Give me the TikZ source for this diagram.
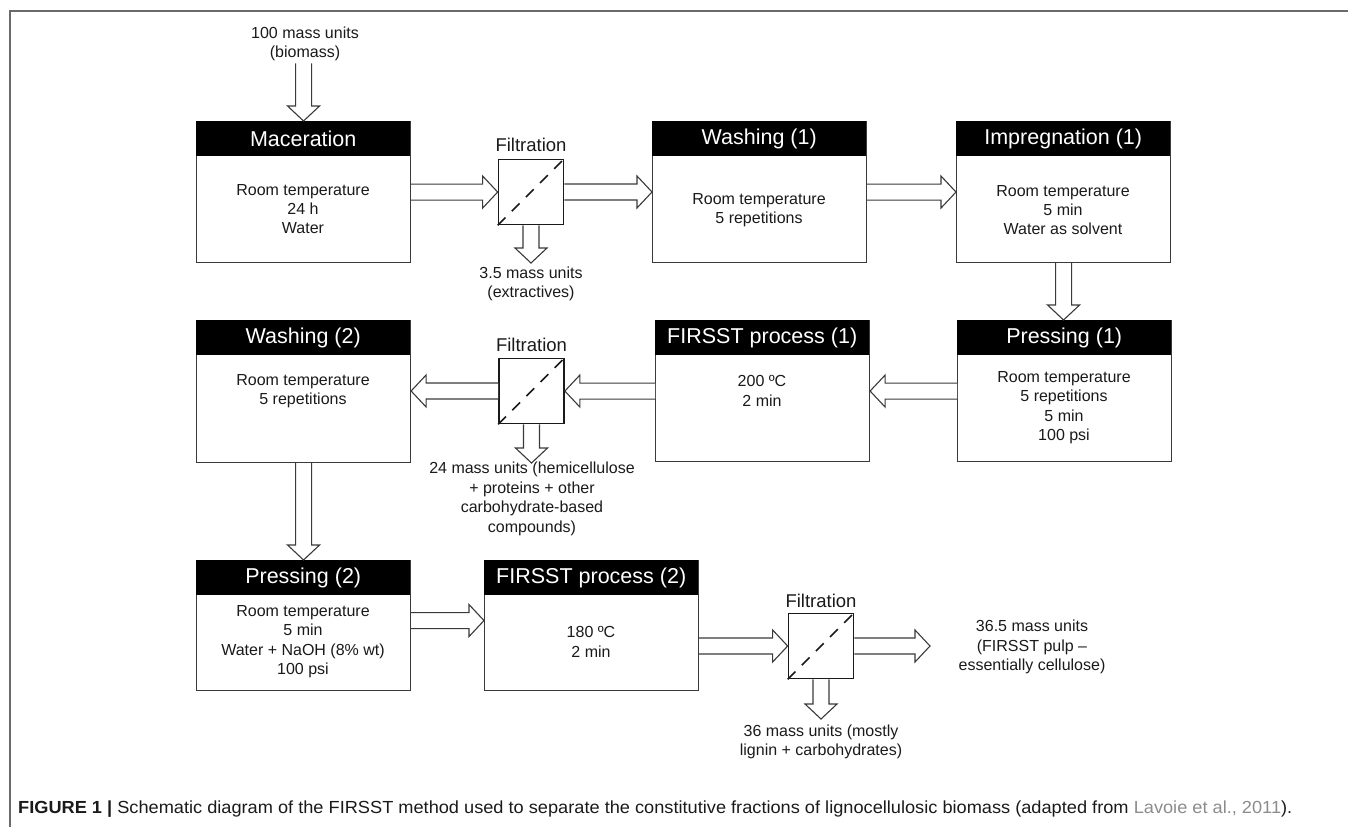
\documentclass[tikz,border=0pt]{standalone}
\usepackage{fontspec}
\setmainfont{Liberation Sans}
\usepackage{graphicx}
\usetikzlibrary{calc}
\definecolor{boxline}{HTML}{3A3A3A}
\definecolor{txt}{HTML}{1A1A1A}
\definecolor{capgrey}{HTML}{8C8C8C}
\definecolor{framegrey}{HTML}{6A6A6A}
\newcommand\arrR[2]{\draw[barrow] let \p1=#1, \p2=#2 in (\x1,\y1+8pt) -- (\x2-15pt,\y1+8pt) -- (\x2-15pt,\y1+16pt) -- (\x2,\y1) -- (\x2-15pt,\y1-16pt) -- (\x2-15pt,\y1-8pt) -- (\x1,\y1-8pt);}
\newcommand\arrL[2]{\draw[barrow] let \p1=#1, \p2=#2 in (\x1,\y1+8pt) -- (\x2+15pt,\y1+8pt) -- (\x2+15pt,\y1+16pt) -- (\x2,\y1) -- (\x2+15pt,\y1-16pt) -- (\x2+15pt,\y1-8pt) -- (\x1,\y1-8pt);}
\newcommand\arrD[2]{\draw[barrow] let \p1=#1, \p2=#2 in (\x1-8pt,\y1) -- (\x1-8pt,\y2+15pt) -- (\x1-16pt,\y2+15pt) -- (\x1,\y2) -- (\x1+16pt,\y2+15pt) -- (\x1+8pt,\y2+15pt) -- (\x1+8pt,\y1);}
\begin{document}
\begin{tikzpicture}[x=1pt,y=-1pt,
  bodybox/.style={draw=boxline, line width=1.1pt, fill=white, minimum width=214pt, anchor=north west, inner sep=0pt},
  hdr/.style={fill=black, text=white, minimum width=214pt, minimum height=35pt, anchor=north west, inner sep=0pt, font=\fontsize{21.5}{23}\selectfont},
  bodytxt/.style={text=txt, align=center, inner sep=1pt, font=\fontsize{16}{19.3}\selectfont},
  filt/.style={draw=txt, line width=1.7pt, fill=white, minimum size=65pt, inner sep=0pt},
  flabel/.style={text=txt, inner sep=1pt, font=\fontsize{18.5}{20}\selectfont},
  outtxt/.style={text=txt, align=center, inner sep=2pt, font=\fontsize{16}{19.5}\selectfont},
  barrow/.style={draw=boxline, fill=white, line width=1.1pt, line join=miter},
  diag/.style={draw=txt, line width=1.7pt, dash pattern=on 11pt off 9pt}
]
\useasboundingbox (0,0) rectangle (1348,827);
\draw[framegrey, line width=2pt] (1348,11) -- (10,11) -- (10,827);

% row 1
\node[bodybox, minimum height=141pt] (mac) at (196,121) {};
\node[hdr] (machd) at (196,121) {Maceration};
\node[bodytxt] (mact) at (303,209) {Room temperature\\24 h\\Water};

\node[bodybox, minimum height=141pt] (wa1) at (652,121) {};
\node[hdr] (wa1hd) at (652,121) {Washing (1)};
\node[bodytxt] (wa1t) at (759,210) {Room temperature\\5 repetitions};

\node[bodybox, minimum height=141pt] (imp) at (956,121) {};
\node[hdr] (imphd) at (956,121) {Impregnation (1)};
\node[bodytxt] (impt) at (1063,210) {Room temperature\\5 min\\Water as solvent};

% row 2
\node[bodybox, minimum height=141pt] (pr1) at (957,320) {};
\node[hdr] (pr1hd) at (957,320) {Pressing (1)};
\node[bodytxt] (pr1t) at (1064,407.5) {Room temperature\\5 repetitions\\5 min\\100 psi};

\node[bodybox, minimum height=141pt] (fi1) at (655,320) {};
\node[hdr] (fi1hd) at (655,320) {FIRSST process (1)};
\node[bodytxt] (fi1t) at (762,391) {200 ºC\\2 min};

\node[bodybox, minimum height=142pt] (wa2) at (196,320) {};
\node[hdr] (wa2hd) at (196,320) {Washing (2)};
\node[bodytxt] (wa2t) at (303,391) {Room temperature\\5 repetitions};

% row 3
\node[bodybox, minimum height=130pt] (pr2) at (196,560) {};
\node[hdr] (pr2hd) at (196,560) {Pressing (2)};
\node[bodytxt] (pr2t) at (303,641.5) {Room temperature\\5 min\\Water + NaOH (8\% wt)\\100 psi};

\node[bodybox, minimum height=130pt] (fi2) at (484,560) {};
\node[hdr] (fi2hd) at (484,560) {FIRSST process (2)};
\node[bodytxt] (fi2t) at (591,642) {180 ºC\\2 min};

% filters
\node[filt] (f1) at (531,192) {};
\draw[diag] (f1.south west) -- (f1.north east);
\node[flabel] (f1l) at (531,145) {Filtration};
\node[filt] (f2) at (531.5,391) {};
\draw[diag] (f2.south west) -- (f2.north east);
\node[flabel] (f2l) at (531.5,345) {Filtration};
\node[filt] (f3) at (821,646) {};
\draw[diag] (f3.south west) -- (f3.north east);
\node[flabel] (f3l) at (821,601) {Filtration};

% texts
\node[outtxt] (in) at (305,44) {100 mass units\\(biomass)};
\node[outtxt] (o1) at (531,284) {3.5 mass units\\(extractives)};
\node[outtxt] (o2) at (532,499) {24 mass units (hemicellulose\\+ proteins + other\\carbohydrate-based\\compounds)};
\node[outtxt] (o3) at (1032,647) {36.5 mass units\\(FIRSST pulp –\\essentially cellulose)};
\node[outtxt] (o4) at (821,742) {36 mass units (mostly\\lignin + carbohydrates)};

\coordinate (o1tip) at (531,263);
\coordinate (o2tip) at (531.5,463);
\coordinate (o4tip) at (821,719);
\coordinate (o3tip) at (930,646);

% arrows
\arrD{(in.south -| mac.north)}{(mac.north)}
\arrR{(mac.east)}{(f1.west)}
\arrR{(f1.east)}{(wa1.west)}
\arrR{(wa1.east)}{(imp.west)}
\arrD{(f1.south)}{(o1tip)}
\arrD{(imp.south)}{(pr1.north)}
\arrL{(pr1.west)}{(fi1.east)}
\arrL{(fi1.west)}{(f2.east)}
\arrL{(f2.west)}{(wa2.east)}
\arrD{(f2.south)}{(o2tip)}
\arrD{(wa2.south)}{(pr2.north)}
\arrR{([yshift=5pt]pr2.east)}{([yshift=5pt]fi2.west)}
\arrR{(fi2.east |- f3.west)}{(f3.west)}
\arrR{(f3.east)}{(o3tip)}
\arrD{(f3.south)}{(o4tip)}

% caption
\node[anchor=base west, inner sep=0pt, text=txt, font=\fontsize{17.5}{20}\selectfont] (cap) at (18,813)
 {\resizebox{1274pt}{\height}{\textbf{FIGURE 1 |} Schematic diagram of the FIRSST method used to separate the constitutive fractions of lignocellulosic biomass (adapted from \textcolor{capgrey}{Lavoie et al., 2011}).}};
\end{tikzpicture}
\end{document}
